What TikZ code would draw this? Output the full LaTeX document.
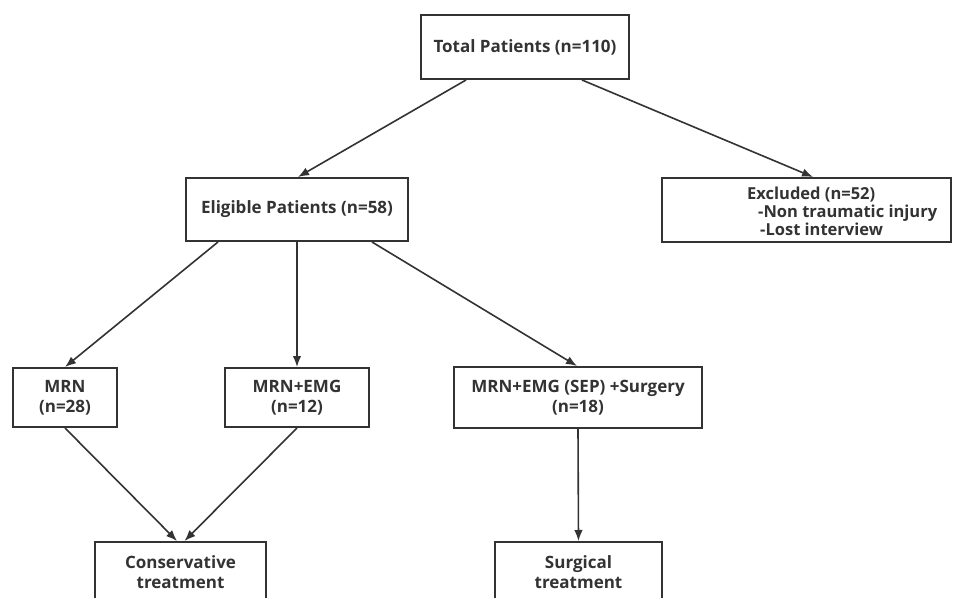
\documentclass[tikz,border=0pt]{standalone}
\usepackage{fontspec}
\setmainfont{Open Sans}
\usetikzlibrary{arrows.meta}
\definecolor{ink}{HTML}{333333}
\begin{document}
\begin{tikzpicture}[x=1pt,y=-1pt,
  box/.style={draw=ink, line width=2pt, rectangle, inner sep=0pt, align=center,
    text=ink, font=\fontsize{17}{20}\selectfont\bfseries},
  arr/.style={draw=ink, line width=1.6pt, -{Latex[length=11pt,width=8.5pt]}}]
\clip (0,0) rectangle (953,597);
\fill[white] (0,0) rectangle (953,597);
% boxes
\node[box, minimum width=208pt, minimum height=64pt] (total) at (525,47) {Total Patients (n=110)};
\node[box, minimum width=222pt, minimum height=63pt] (elig) at (297,209.5) {Eligible Patients (n=58)};
\node[box, minimum width=289pt, minimum height=64pt] (excl) at (806.5,210) {};
\node[anchor=west, inner sep=0pt, align=left, text=ink, font=\fontsize{16.5}{18}\selectfont\bfseries] (excltxt) at (747,211)
  {Excluded (n=52)\\\hspace{11pt}-Non traumatic injury\\\hspace{13pt}-Lost interview};
\node[box, minimum width=104pt, minimum height=59pt] (mrn) at (65,397.5) {MRN\\(n=28)};
\node[box, minimum width=144pt, minimum height=59pt] (emg) at (297,397.5) {MRN+EMG\\(n=12)};
\node[box, minimum width=248pt, minimum height=61pt] (surg) at (578,397.5) {MRN+EMG (SEP) +Surgery\\(n=18)};
\node[box, minimum width=171pt, minimum height=61pt] (cons) at (180.5,572.5) {Conservative\\treatment};
\node[box, minimum width=167pt, minimum height=61pt] (surgt) at (578.5,572.5) {Surgical\\treatment};
% connectors
\draw[arr] ([xshift=-59pt]total.south) -- ([xshift=1pt]elig.north);
\draw[arr] ([xshift=57pt]total.south) -- ([xshift=6.5pt]excl.north);
\draw[arr] ([xshift=-79pt]elig.south) -- (mrn.north);
\draw[arr] (elig.south) -- (emg.north);
\draw[arr] ([xshift=75pt]elig.south) -- ([xshift=-1pt]surg.north);
\draw[arr] (mrn.south) -- ([xshift=-3.5pt]cons.north);
\draw[arr] (emg.south) -- ([xshift=4pt]cons.north);
\draw[arr] (surg.south) -- (surgt.north);
\end{tikzpicture}
\end{document}
